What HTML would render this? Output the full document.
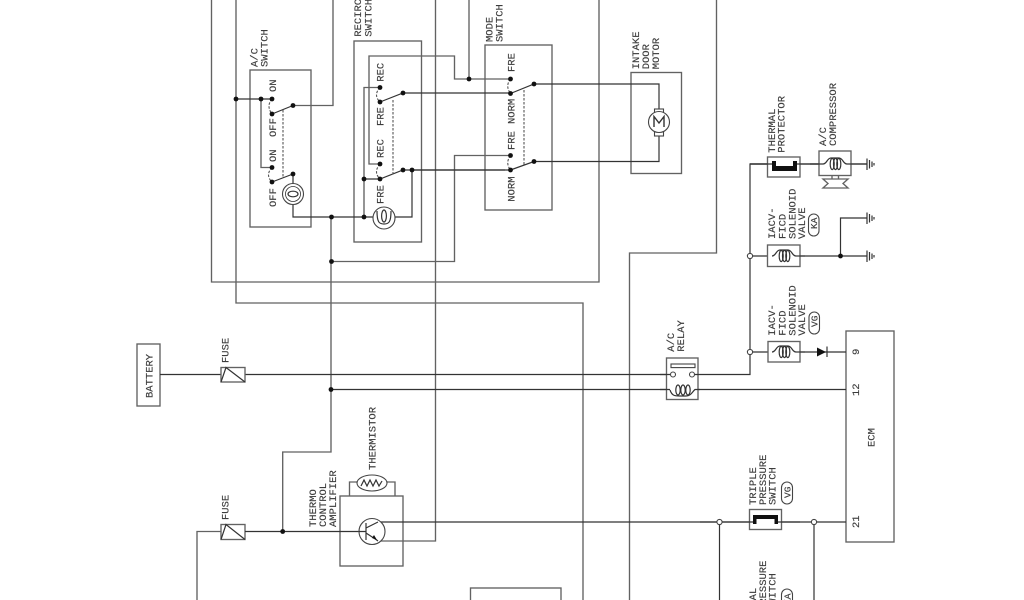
<!DOCTYPE html>
<html><head><meta charset="utf-8"><style>
html,body{margin:0;padding:0;background:#fff;width:1024px;height:600px;overflow:hidden}
svg{display:block;filter:blur(0.35px)}
.g{fill:none;stroke:#626262;stroke-width:1.35}
.b{fill:#fff;stroke:#626262;stroke-width:1.35}
.k{fill:none;stroke:#333;stroke-width:1.2}
.d{fill:none;stroke:#555;stroke-width:1.1;stroke-dasharray:2.5 1.5}
.w{fill:#fff;stroke:#444;stroke-width:1.1}
text{font-family:"Liberation Mono",monospace;font-size:10.5px;fill:#3c3c3c;stroke:#3c3c3c;stroke-width:.15px;letter-spacing:0}
</style></head><body>
<svg width="1024" height="600" viewBox="0 0 1024 600" xmlns="http://www.w3.org/2000/svg">
<defs>
<g id="coil">
<path class="k" d="M-12 0C-8 0 -8 -6 -4 -6H4C8 -6 8 0 12 0"/>
<ellipse class="k" cx="-2.8" cy="0" rx="2" ry="5.6"/>
<ellipse class="k" cx="0.5" cy="0" rx="2" ry="5.6"/>
<ellipse class="k" cx="3.8" cy="0" rx="2" ry="5.6"/>
</g>
</defs>
<!-- outer wires -->
<path class="g" d="M211.5 0V282H599V0"/>
<path class="g" d="M236 0V303H583V600"/>
<path class="g" d="M435.5 0V541H378"/>
<path class="g" d="M716.5 0V253H629.5V600"/>
<path class="g" d="M333 0V105.5H293"/>
<path class="g" d="M469 0V79"/>
<path class="g" d="M331 217V452H282.7V531.5"/>
<path class="g" d="M197 600V531.5H221"/>
<!-- boxes -->
<rect class="g" x="250" y="70" width="61" height="157"/>
<rect class="g" x="354" y="41" width="67.5" height="201"/>
<rect class="g" x="485" y="45" width="67" height="165"/>
<rect class="g" x="631" y="72.5" width="50.5" height="101"/>
<rect class="g" x="137" y="344" width="23" height="62"/>
<rect class="g" x="340" y="496" width="63" height="70"/>
<rect class="g" x="846" y="331" width="48" height="211"/>
<rect class="g" x="470.5" y="588" width="90.5" height="20"/>
<!-- AC switch -->
<path class="k" d="M236 99H272"/>
<path class="g" d="M261 99V167.5H272"/>
<path class="k" d="M272 114L293 105.5M272 182L293 174M293 174V217H364"/>
<path class="d" d="M272 99Q266 106 272 114M272 167.5Q265 175 272 182M283 110V178"/>
<circle class="w" cx="293" cy="194" r="10.5"/>
<circle class="k" cx="293" cy="194" r="7.5" style="stroke-width:.8"/>
<ellipse class="k" cx="293" cy="194" rx="5" ry="2.8"/>
<!-- Recirc -->
<path class="g" d="M380 87.5H364V217"/>
<path class="g" d="M380 164H369V56H454.5V79H510.5"/>
<path class="k" d="M364 179H380L403 170H505M380 102L403 93H510.5M412 170V217H395M364 217H374"/>
<path class="d" d="M380 87.5Q373 95 380 102M380 164Q373 172 380 179M393 100V175"/>
<circle class="w" cx="384" cy="218" r="11"/>
<ellipse class="k" cx="384" cy="216" rx="2.4" ry="6"/>
<path class="k" d="M377 211C377 222 379 224 384 224C389 224 391 222 391 211"/>
<!-- Mode -->
<path class="g" d="M331 261.5H454.5V155.5H510.5"/>
<path class="k" d="M412 170H510.5L534 161.5H659V84H534L510.5 93.5"/>
<path class="d" d="M510.5 79Q505 86 510.5 93.5M510.5 155.5Q505 163 510.5 170M524 90V166"/>
<!-- motor -->
<rect class="w" x="654.5" y="109" width="9" height="27"/>
<circle class="w" cx="659" cy="122" r="10.5"/>
<path class="k" d="M654 127V116.5L659 123L664 116.5V127" style="stroke-width:1.4"/>
<!-- battery/fuse wires -->
<path class="k" d="M160 374.5H221M245 374.5H671M331 389.5H846"/>
<rect class="b" x="221" y="367.5" width="24" height="14.5"/>
<path class="k" d="M221 382L226 367.5L245 382"/>
<rect class="b" x="221" y="524.5" width="24" height="15"/>
<path class="k" d="M221 539.5L226 524.5L245 539.5"/>
<path class="k" d="M245 531.5H359"/>
<!-- transistor -->
<path class="k" d="M378 522H846"/>
<circle class="w" cx="372" cy="531.5" r="13"/>
<path class="k" d="M366 523V540M366 531.5H359M366 528L378 522M366 533L376 539.5L378 541"/>
<path d="M372 538L377 540L374 535Z" fill="#111"/>
<!-- thermistor -->
<path class="g" d="M349.5 496V482H395V496"/>
<ellipse class="w" cx="372" cy="483" rx="15" ry="8"/>
<path class="k" d="M361 486L364 480L367 486L370 480L373 486L376 480L379 486L382 481"/>
<!-- relay -->
<rect class="b" x="666.5" y="358" width="31.5" height="41.5"/>
<rect class="w" x="671" y="364" width="24" height="3.6"/>
<path class="k" d="M660 374.5H671M692 374.5H750V164H770M660 389.5H670"/>
<circle class="w" cx="673" cy="374.5" r="2.5"/>
<circle class="w" cx="692" cy="374.5" r="2.5"/>
<path class="k" d="M670 390C672 396 675 396 680 396H686C691 396 692 392 695 389.5H700"/>
<ellipse class="k" cx="678" cy="390" rx="2.2" ry="5"/>
<ellipse class="k" cx="683" cy="390" rx="2.2" ry="5"/>
<ellipse class="k" cx="688" cy="390" rx="2.2" ry="5"/>
<!-- right column -->
<path class="k" d="M750 164H867M750 256H867M750 352H846M840.5 256V218H867"/>
<rect class="b" x="767.5" y="157" width="32.5" height="20"/>
<path class="k" d="M750 164H772M797 164H819"/>
<path d="M772 161H776V166H793V161H797V171H772Z" fill="#111"/>
<rect class="b" x="819" y="151" width="32" height="24.5"/>
<use href="#coil" x="835" y="164"/>
<path class="k" d="M810 164H823M847 164H867"/>
<path class="g" d="M832 175.5V179M838.5 175.5V179M823 179H848L843 183.5L848 188H823L828 183.5Z"/>
<rect class="b" x="767.5" y="245" width="32.5" height="21.5"/>
<use href="#coil" x="784" y="256"/>
<path class="k" d="M796 256H805"/>
<rect class="b" x="768" y="341.5" width="32" height="20.5"/>
<use href="#coil" x="784" y="352"/>
<path class="k" d="M796 352H805"/>
<path d="M817 347.5L826 352L817 356.5Z" fill="#111"/>
<path class="k" d="M827 346.5V357"/>
<!-- grounds -->
<g class="k">
<path d="M867 158.5V170M869.5 160V168.5M872 161.5V167M874 163V165.5"/>
<path d="M867 212.5V224M869.5 214V222.5M872 215.5V221M874 217V219.5"/>
<path d="M867 250.5V262M869.5 252V260.5M872 253.5V259M874 255V257.5"/>
</g>
<!-- lower right -->
<rect class="b" x="749.5" y="509.5" width="32" height="20"/>
<path class="k" d="M700 522H754M777 522H800"/>
<path d="M753 515H778V524H774.5V519H756.5V524H753Z" fill="#111"/>
<path class="k" d="M719.5 522V600M814 522V600"/>
<!-- filled dots -->
<g fill="#111">
<circle cx="236" cy="99" r="2.4"/><circle cx="261" cy="99" r="2.4"/><circle cx="272" cy="99" r="2.4"/>
<circle cx="272" cy="114" r="2.4"/><circle cx="293" cy="105.5" r="2.4"/><circle cx="272" cy="167.5" r="2.4"/>
<circle cx="272" cy="182" r="2.4"/><circle cx="293" cy="174" r="2.4"/>
<circle cx="331.5" cy="217" r="2.4"/><circle cx="364" cy="217" r="2.4"/><circle cx="331.5" cy="261.5" r="2.4"/>
<circle cx="380" cy="87.5" r="2.4"/><circle cx="380" cy="102" r="2.4"/><circle cx="403" cy="93" r="2.4"/>
<circle cx="380" cy="164" r="2.4"/><circle cx="380" cy="179" r="2.4"/><circle cx="364" cy="179" r="2.4"/>
<circle cx="403" cy="170" r="2.4"/><circle cx="412" cy="170" r="2.4"/>
<circle cx="469" cy="79" r="2.4"/><circle cx="510.5" cy="79" r="2.4"/><circle cx="510.5" cy="93.5" r="2.4"/>
<circle cx="510.5" cy="155.5" r="2.4"/><circle cx="510.5" cy="170" r="2.4"/>
<circle cx="534" cy="84" r="2.4"/><circle cx="534" cy="161.5" r="2.4"/>
<circle cx="331" cy="389.5" r="2.4"/><circle cx="282.7" cy="531.5" r="2.4"/>
<circle cx="840.5" cy="256" r="2.4"/>
</g>
<!-- open dots -->
<g fill="#fff" stroke="#444" stroke-width="1.1">
<circle cx="750" cy="256" r="2.6"/><circle cx="750" cy="352" r="2.6"/>
<circle cx="719.5" cy="522" r="2.6"/><circle cx="814" cy="522" r="2.6"/>
</g>
<!-- ovals -->
<g fill="none" stroke="#444" stroke-width="1.1">
<rect x="808.5" y="214" width="10.5" height="22" rx="5.2"/>
<rect x="809" y="312" width="10.5" height="22" rx="5.2"/>
<rect x="781.5" y="482" width="11" height="22" rx="5.5"/>
<rect x="781.5" y="589" width="11" height="22" rx="5.5"/>
</g>
<!-- labels -->
<text transform="translate(257.5,67) rotate(-90)">A/C</text>
<text transform="translate(267.5,67) rotate(-90)">SWITCH</text>
<text transform="translate(361,36.7) rotate(-90)">RECIRC</text>
<text transform="translate(371.5,36.7) rotate(-90)">SWITCH</text>
<text transform="translate(492.5,42) rotate(-90)">MODE</text>
<text transform="translate(502.5,42) rotate(-90)">SWITCH</text>
<text transform="translate(639.2,69.3) rotate(-90)">INTAKE</text>
<text transform="translate(649.2,69.3) rotate(-90)">DOOR</text>
<text transform="translate(659.2,69.3) rotate(-90)">MOTOR</text>
<text transform="translate(276,92) rotate(-90)">ON</text>
<text transform="translate(276,137) rotate(-90)">OFF</text>
<text transform="translate(276,162) rotate(-90)">ON</text>
<text transform="translate(276,207) rotate(-90)">OFF</text>
<text transform="translate(383.5,81.7) rotate(-90)">REC</text>
<text transform="translate(383.5,126) rotate(-90)">FRE</text>
<text transform="translate(383.5,158) rotate(-90)">REC</text>
<text transform="translate(383.5,204) rotate(-90)">FRE</text>
<text transform="translate(514.5,72) rotate(-90)">FRE</text>
<text transform="translate(514.5,124) rotate(-90)">NORM</text>
<text transform="translate(514.5,150) rotate(-90)">FRE</text>
<text transform="translate(514.5,201.7) rotate(-90)">NORM</text>
<text transform="translate(775.2,152.7) rotate(-90)">THERMAL</text>
<text transform="translate(784.5,152.7) rotate(-90)">PROTECTOR</text>
<text transform="translate(825.8,146) rotate(-90)">A/C</text>
<text transform="translate(835.8,146) rotate(-90)">COMPRESSOR</text>
<text transform="translate(775.2,239) rotate(-90)">IACV-</text>
<text transform="translate(785.5,239) rotate(-90)">FICD</text>
<text transform="translate(795.5,239) rotate(-90)">SOLENOID</text>
<text transform="translate(805,239) rotate(-90)">VALVE</text>
<text transform="translate(817,229) rotate(-90)" style="font-size:9.5px">KA</text>
<text transform="translate(775.2,335.7) rotate(-90)">IACV-</text>
<text transform="translate(785.5,335.7) rotate(-90)">FICD</text>
<text transform="translate(795.5,335.7) rotate(-90)">SOLENOID</text>
<text transform="translate(805,335.7) rotate(-90)">VALVE</text>
<text transform="translate(817.5,327) rotate(-90)" style="font-size:9.5px">VG</text>
<text transform="translate(674.2,351.7) rotate(-90)">A/C</text>
<text transform="translate(684,351.7) rotate(-90)">RELAY</text>
<text transform="translate(152.5,398) rotate(-90)">BATTERY</text>
<text transform="translate(228.5,363) rotate(-90)">FUSE</text>
<text transform="translate(228.5,520) rotate(-90)">FUSE</text>
<text transform="translate(316.2,527) rotate(-90)">THERMO</text>
<text transform="translate(326.2,527) rotate(-90)">CONTROL</text>
<text transform="translate(336.2,527) rotate(-90)">AMPLIFIER</text>
<text transform="translate(375.5,470) rotate(-90)">THERMISTOR</text>
<text transform="translate(874.5,447) rotate(-90)">ECM</text>
<text transform="translate(859,355) rotate(-90)">9</text>
<text transform="translate(859,396) rotate(-90)">12</text>
<text transform="translate(859,528) rotate(-90)">21</text>
<text transform="translate(756.2,505) rotate(-90)">TRIPLE</text>
<text transform="translate(766.2,505) rotate(-90)">PRESSURE</text>
<text transform="translate(775.5,505) rotate(-90)">SWITCH</text>
<text transform="translate(790.5,498) rotate(-90)" style="font-size:9.5px">VG</text>
<text transform="translate(756.2,613) rotate(-90)">DUAL</text>
<text transform="translate(766.2,611) rotate(-90)">PRESSURE</text>
<text transform="translate(775.5,611) rotate(-90)">SWITCH</text>
<text transform="translate(790.5,605) rotate(-90)" style="font-size:9.5px">KA</text>
</svg>
</body></html>
